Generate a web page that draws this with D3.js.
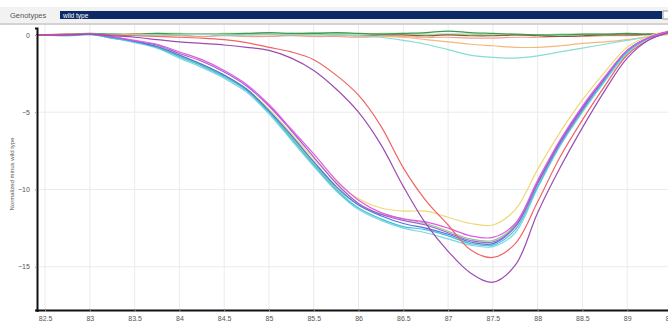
<!DOCTYPE html>
<html>
<head>
<meta charset="utf-8">
<script src="https://cdn.jsdelivr.net/npm/d3@7"></script>
<style>
  body { margin: 0; background: #fff; }
  svg { display: block; font-family: "Liberation Sans", Arial, sans-serif; }
</style>
</head>
<body>
<div id="app"></div>
<script>
const temps = [82.4, 82.75, 83, 83.25, 83.5, 83.75, 84, 84.25, 84.5, 84.75, 85, 85.25, 85.5, 85.75, 86,
  86.25, 86.5, 86.75, 87, 87.25, 87.5, 87.75, 88, 88.25, 88.5, 88.75, 89, 89.25, 89.5];

const xTicks = [82.5, 83, 83.5, 84, 84.5, 85, 85.5, 86, 86.5, 87, 87.5, 88, 88.5, 89, 89.5];
const yTicks = [0, -5, -10, -15];

// flat / near-zero curves
const darkGreen = [0, 0.05, 0.1, 0.05, 0.05, 0.1, 0.05, 0.05, 0.05, 0.1, 0.15, 0.1, 0.1, 0.15, 0.1, 0.05, 0.1, 0.15, 0.25, 0.15, 0.1, 0.05, 0, 0, 0.05, 0.05, 0.1, 0.05, 0.05];
const brown = [0, 0, 0.05, 0, 0.05, 0.05, 0, 0.05, 0, 0.05, 0.05, 0, 0.05, 0, -0.05, 0, 0, -0.05, 0, -0.05, -0.05, 0, -0.05, -0.1, -0.05, 0, 0, 0.05, 0.05];
const salmon = [0, 0, 0.05, -0.05, 0, -0.05, -0.05, -0.1, -0.05, -0.1, -0.1, -0.05, -0.1, -0.1, -0.15, -0.1, -0.1, -0.15, -0.15, -0.2, -0.2, -0.15, -0.15, -0.1, -0.1, -0.05, -0.05, 0, 0.05];
const lightGreenFlat = [0, 0, 0.05, 0.05, 0.05, 0.1, 0.1, 0.05, 0.1, 0.1, 0.05, 0.1, 0.15, 0.1, 0.05, 0.1, 0.1, 0.05, 0.05, 0.05, 0, 0, 0, 0.05, 0.05, 0.05, 0.05, 0.05, 0.1];
const orange = [0, 0, 0.05, 0, 0.05, 0, 0, 0.05, 0, 0, 0, 0, 0, 0, -0.05, -0.1, -0.15, -0.3, -0.45, -0.6, -0.7, -0.8, -0.8, -0.7, -0.55, -0.45, -0.3, -0.1, 0.05];
const tealDip = [0, 0, 0.05, 0, 0, 0, 0, 0.05, 0, 0, 0.05, 0, 0, 0, -0.05, -0.15, -0.35, -0.6, -0.95, -1.3, -1.45, -1.5, -1.35, -1.1, -0.85, -0.6, -0.35, -0.1, 0.1];

// early melting group
const yellow = [0, 0, 0.05, -0.15, -0.4, -0.7, -1.3, -1.9, -2.6, -3.5, -4.8, -6.4, -8.0, -9.5, -10.6, -11.2, -11.4, -11.4, -11.8, -12.2, -12.3, -11.3, -8.7, -6.3, -4.2, -2.4, -0.8, -0.05, 0.3];
const greenMain = [0, 0, 0.05, -0.2, -0.45, -0.8, -1.35, -1.95, -2.65, -3.55, -4.95, -6.6, -8.3, -9.9, -11.0, -11.6, -11.9, -12.2, -12.7, -13.2, -13.3, -12.3, -9.5, -6.9, -4.7, -2.8, -1.0, -0.15, 0.25];
const magenta = [0, 0, 0.05, -0.1, -0.35, -0.6, -1.1, -1.6, -2.3, -3.2, -4.5, -6.1, -7.7, -9.4, -10.7, -11.5, -11.9, -12.1, -12.5, -13.0, -13.1, -12.2, -9.4, -6.8, -4.6, -2.7, -1.0, -0.15, 0.25];
const violet = [0, 0, 0.05, -0.1, -0.4, -0.65, -1.2, -1.7, -2.4, -3.3, -4.6, -6.2, -7.9, -9.6, -10.9, -11.6, -12.0, -12.3, -12.8, -13.3, -13.4, -12.4, -9.6, -7.0, -4.8, -2.8, -1.0, -0.15, 0.25];
const blue = [0, 0, 0.05, -0.15, -0.4, -0.75, -1.3, -1.9, -2.6, -3.5, -4.9, -6.5, -8.2, -9.8, -11.0, -11.7, -12.2, -12.5, -12.9, -13.4, -13.5, -12.4, -9.6, -6.9, -4.7, -2.8, -1.0, -0.15, 0.25];
const lightCyan = [0, -0.05, 0, -0.2, -0.5, -0.85, -1.5, -2.1, -2.8, -3.7, -5.1, -6.8, -8.5, -10.1, -11.3, -12.0, -12.5, -12.8, -13.2, -13.6, -13.7, -12.8, -9.9, -7.2, -5.0, -3.0, -1.2, -0.2, 0.2];
const cyan = [0, -0.05, 0.05, -0.2, -0.45, -0.8, -1.4, -2.0, -2.7, -3.6, -5.0, -6.7, -8.4, -10.0, -11.2, -11.9, -12.4, -12.6, -13.0, -13.5, -13.6, -12.6, -9.8, -7.1, -4.9, -2.9, -1.1, -0.2, 0.2];

// late melting pair
const red = [0, 0.05, 0.05, 0, -0.05, -0.1, -0.15, -0.2, -0.3, -0.5, -0.8, -1.1, -1.6, -2.6, -3.9, -5.9, -8.6, -10.7, -12.3, -13.9, -14.4, -13.5, -10.8, -7.9, -5.5, -3.3, -1.3, -0.3, 0.2];
const purple = [0, 0, 0.05, -0.05, -0.15, -0.3, -0.45, -0.55, -0.65, -0.8, -1.0, -1.5, -2.3, -3.5, -5.0, -7.1, -9.8, -12.2, -14.0, -15.4, -16.0, -14.9, -11.5, -8.6, -6.0, -3.6, -1.5, -0.3, 0.2];

const series = [
  { values: salmon, color: '#f2a08c' },
  { values: lightGreenFlat, color: '#9ad89a' },
  { values: brown, color: '#8a5a3a' },
  { values: darkGreen, color: '#3c9a52' },
  { values: orange, color: '#f6b878' },
  { values: tealDip, color: '#86ddd6' },
  { values: yellow, color: '#eed878' },
  { values: greenMain, color: '#88cc88' },
  { values: lightCyan, color: '#7ad6e4' },
  { values: cyan, color: '#3ec4d4' },
  { values: blue, color: '#5670e0' },
  { values: violet, color: '#a460cc' },
  { values: magenta, color: '#e058e8' },
  { values: red, color: '#f06464' },
  { values: purple, color: '#9a4cb4' }
];

const width = 668;
const height = 325;
const margin = { top: 25, right: 0, bottom: 15, left: 37 };

const svg = d3.select('#app')
  .append('svg')
  .attr('width', width)
  .attr('height', height);

// header strip
svg.append('rect').attr('x', 0).attr('y', 7).attr('width', width).attr('height', 16).attr('fill', '#f2f2f2');
svg.append('text').attr('x', 10).attr('y', 18).attr('font-size', 7.5).attr('fill', '#555').text('Genotypes');
svg.append('rect').attr('x', 60).attr('y', 11).attr('width', 602).attr('height', 8).attr('fill', '#0c2a66');
svg.append('text').attr('x', 63).attr('y', 17.5).attr('font-size', 6.5).attr('fill', '#fff').text('wild type');
svg.append('rect').attr('x', 663).attr('y', 11).attr('width', 6).attr('height', 8).attr('fill', '#fff').attr('stroke', '#999');
svg.append('line').attr('x1', 0).attr('x2', width).attr('y1', 24).attr('y2', 24).attr('stroke', '#c4c4c4').attr('stroke-width', 1.5);

const x = d3.scaleLinear()
  .domain([82.41, 89.5])
  .range([margin.left, 672]);

const y = d3.scaleLinear()
  .domain([-17.8, 0.45])
  .range([height - margin.bottom, margin.top + 3]);

// grid
svg.append('g')
  .selectAll('line')
  .data(xTicks)
  .join('line')
  .attr('x1', d => x(d)).attr('x2', d => x(d))
  .attr('y1', y.range()[1] - 3).attr('y2', y.range()[0])
  .attr('stroke', '#ebebeb');

svg.append('g')
  .selectAll('line')
  .data(yTicks)
  .join('line')
  .attr('x1', margin.left).attr('x2', width)
  .attr('y1', d => y(d)).attr('y2', d => y(d))
  .attr('stroke', '#ebebeb');

// curves
const line = d3.line()
  .x((d, i) => x(temps[i]))
  .y(d => y(d))
  .curve(d3.curveCatmullRom.alpha(0.5));

svg.append('g')
  .selectAll('path')
  .data(series)
  .join('path')
  .attr('d', d => line(d.values))
  .attr('fill', 'none')
  .attr('stroke', d => d.color)
  .attr('stroke-width', 1.2);

// axes
const xAxis = svg.append('g')
  .attr('transform', `translate(0,${height - margin.bottom})`)
  .call(d3.axisBottom(x).tickValues(xTicks).tickSize(2).tickFormat(d3.format('')));
xAxis.select('.domain').attr('stroke', '#111').attr('stroke-width', 2);
xAxis.selectAll('.tick line').attr('stroke', '#999');
xAxis.selectAll('text').attr('font-size', 7).attr('fill', '#555').attr('dy', '0.9em');

const yAxis = svg.append('g')
  .attr('transform', `translate(${margin.left},0)`)
  .call(d3.axisLeft(y).tickValues(yTicks).tickSize(2));
yAxis.select('.domain').attr('stroke', '#111').attr('stroke-width', 2);
yAxis.selectAll('.tick line').attr('stroke', '#999');
yAxis.selectAll('text').attr('font-size', 7).attr('fill', '#555').attr('dx', '-0.3em');

svg.append('text')
  .attr('transform', `translate(14,${y(-9)}) rotate(-90)`)
  .attr('text-anchor', 'middle')
  .attr('font-size', 6)
  .attr('fill', '#555')
  .text('Normalized minus wild type');

svg.append('text')
  .attr('x', 352).attr('y', 330)
  .attr('text-anchor', 'middle')
  .attr('font-size', 7)
  .attr('fill', '#555')
  .text('Temperature');
</script>
</body>
</html>
